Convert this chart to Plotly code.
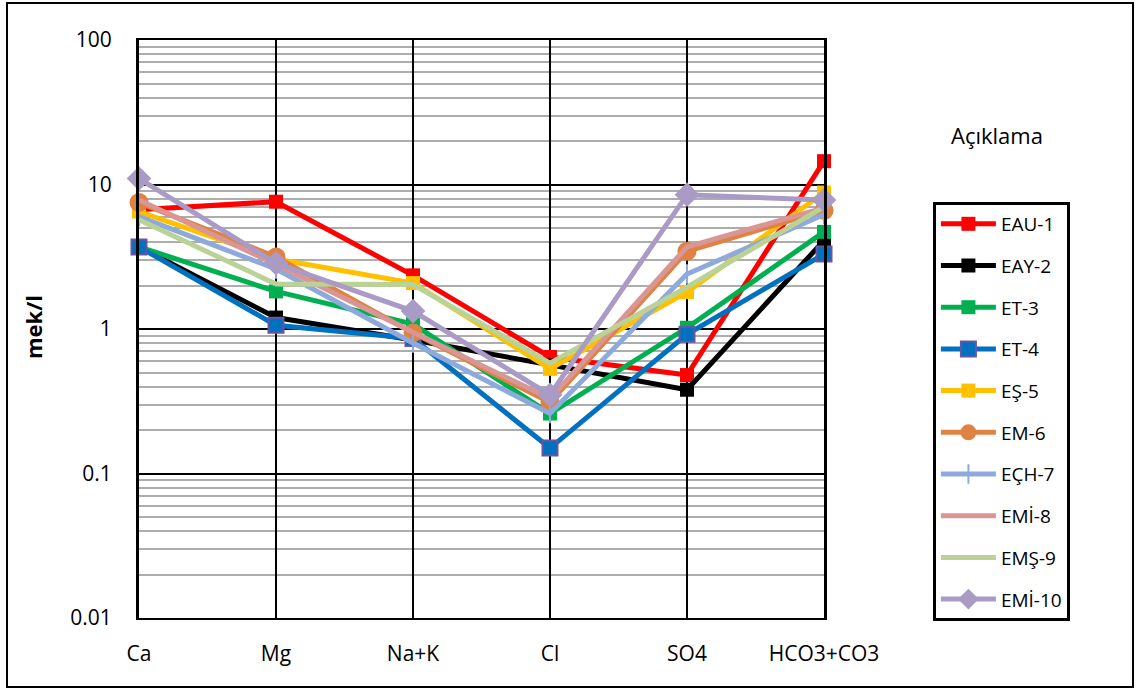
import plotly.graph_objects as go

categories = ["Ca", "Mg", "Na+K", "Cl", "SO4", "HCO3+CO3"]

EAU_1 = [6.7, 7.6, 2.35, 0.64, 0.48, 14.5]
EAY_2 = [3.7, 1.2, 0.84, 0.56, 0.38, 4.1]
ET_3 = [3.7, 1.82, 1.08, 0.26, 1.02, 4.7]
ET_4 = [3.7, 1.06, 0.86, 0.15, 0.92, 3.3]
ES_5 = [6.5, 3.05, 2.08, 0.53, 1.8, 8.8]
EM_6 = [7.5, 3.15, 0.94, 0.31, 3.45, 6.6]
ECH_7 = [6.0, 2.6, 0.8, 0.26, 2.4, 6.2]
EMI_8 = [7.8, 2.8, 0.95, 0.33, 3.7, 6.9]
EMS_9 = [5.7, 2.05, 2.03, 0.58, 1.95, 7.0]
EMI_10 = [11.0, 2.85, 1.33, 0.35, 8.5, 7.8]

series_names = ["EAU-1", "EAY-2", "ET-3", "ET-4", "EŞ-5", "EM-6", "EÇH-7", "EMİ-8", "EMŞ-9", "EMİ-10"]
series_values = [EAU_1, EAY_2, ET_3, ET_4, ES_5, EM_6, ECH_7, EMI_8, EMS_9, EMI_10]
colors = ["#FF0000", "#000000", "#00B050", "#0070C0", "#FFC000", "#DE8343", "#8EA9DB", "#D99694", "#BBD296", "#A99BC6"]
markers = [
    dict(symbol="square", size=14),
    dict(symbol="square", size=14),
    dict(symbol="square", size=14),
    dict(symbol="square", size=15, line=dict(color="#6A55A0", width=2)),
    dict(symbol="square", size=14),
    dict(symbol="circle", size=19),
    dict(symbol="line-ns", size=14, line=dict(width=2)),
    dict(symbol="circle", size=1, opacity=0),
    dict(symbol="circle", size=1, opacity=0),
    dict(symbol="diamond", size=19),
]

y_tickvals = [0.01, 0.1, 1, 10, 100]
y_ticktext = ["0.01", "0.1", "1", "10", "100"]
minor_vals = [k * 10.0 ** e for e in range(-2, 2) for k in range(2, 10)]

FONT = "Open Sans"

fig = go.Figure()
for i, (name, vals) in enumerate(zip(series_names, series_values)):
    m = dict(markers[i])
    m["color"] = colors[i]
    if "line" in m:
        ln = dict(m["line"])
        if "color" not in ln:
            ln["color"] = colors[i]
        m["line"] = ln
    fig.add_trace(go.Scatter(
        x=categories, y=vals, name=name, mode="lines+markers",
        line=dict(color=colors[i], width=5),
        marker=m, cliponaxis=False, legendgroup=name,
    ))

fig.update_layout(
    width=1139, height=690,
    paper_bgcolor="white", plot_bgcolor="white",
    margin=dict(l=139, r=315, t=40, b=72),
    font=dict(family=FONT, size=21, color="#000000"),
    showlegend=True,
    legend=dict(
        x=1.159, y=0.7198, xanchor="left", yanchor="top",
        bordercolor="#000000", borderwidth=3,
        font=dict(family=FONT, size=19, color="#000000"),
        tracegroupgap=14, itemwidth=55,
    ),
    xaxis=dict(
        type="category", range=[0, 5],
        showgrid=True, gridcolor="#000000", gridwidth=1.5,
        showline=True, linecolor="#000000", linewidth=2, mirror=True,
        ticks="", ticklabelstandoff=16,
        tickfont=dict(family=FONT, size=21),
    ),
    yaxis=dict(
        type="log", range=[-2, 2],
        tickvals=y_tickvals, ticktext=y_ticktext,
        showgrid=True, gridcolor="#000000", gridwidth=1.5,
        showline=True, linecolor="#000000", linewidth=3, mirror=True,
        ticks="", ticklabelstandoff=20,
        tickfont=dict(family=FONT, size=21),
        minor=dict(tickvals=minor_vals, showgrid=True, gridcolor="#ADADAD", gridwidth=1.5, ticks=""),
        zeroline=False,
    ),
    annotations=[
        dict(text="<b>mek/l</b>", x=(33 - 139) / 685, y=(618 - 327) / 578, xref="paper", yref="paper",
             xanchor="center", yanchor="middle",
             textangle=-90, showarrow=False, font=dict(family=FONT, size=22, color="#000000")),
        dict(text="Açıklama", x=(997 - 139) / 685, y=(618 - 135) / 578, xref="paper", yref="paper",
             xanchor="center", yanchor="middle",
             showarrow=False, font=dict(family=FONT, size=22, color="#000000")),
    ],
    shapes=[
        dict(type="rect", xref="paper", yref="paper",
             x0=(7 - 139) / 685, x1=(1133 - 139) / 685,
             y0=(618 - 687) / 578, y1=(618 - 3) / 578,
             line=dict(color="#000000", width=2), layer="below"),
    ],
)

fig.write_html("out.html")
